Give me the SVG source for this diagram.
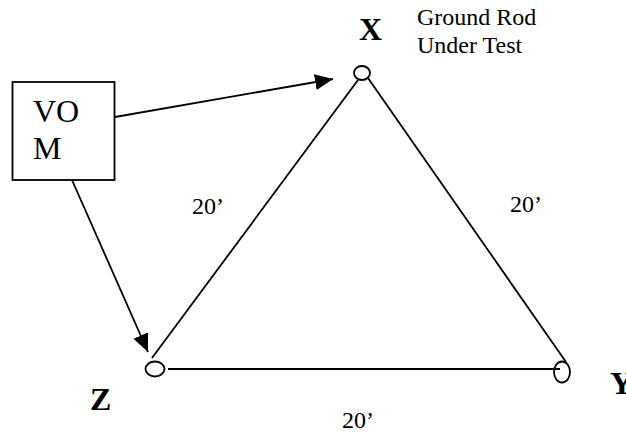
<svg xmlns="http://www.w3.org/2000/svg" width="626" height="432" viewBox="0 0 626 432">
<style>
text{font-family:"Liberation Serif","Times New Roman",serif;fill:#000}
.l{font-size:24px}.b{font-size:32px;font-weight:bold}.v{font-size:32px}
.s{fill:none;stroke:#000;stroke-width:1.8}
</style>
<defs><marker id="a" markerUnits="userSpaceOnUse" markerWidth="18" markerHeight="16" refX="18" refY="8" orient="auto"><path d="M0 0L18 8L0 16Z" fill="#000"/></marker></defs>
<rect width="626" height="432" fill="#fff"/>
<g id="connectors">
<path class="s" d="M358 80L152 358"/><path class="s" d="M368 78L566 362"/><path class="s" d="M168 369H560"/>
<path class="s" d="M115 117L333 79" marker-end="url(#a)"/><path class="s" d="M72 180L148 352" marker-end="url(#a)"/>
</g>
<g id="vom"><rect class="s" x="12.500" y="82" width="102" height="98"/><text class="v" x="33" y="122">VO</text><text class="v" x="33" y="159">M</text></g>
<g id="x"><ellipse class="s" cx="362" cy="73" rx="8" ry="7"/><text class="b" x="359" y="40">X</text></g>
<g id="y"><ellipse class="s" cx="562" cy="372" rx="8" ry="10.500"/><text class="b" x="610" y="394">Y</text></g>
<g id="z"><ellipse class="s" cx="155" cy="369" rx="9.500" ry="7.500"/><text class="b" x="90" y="410">Z</text></g>
<g id="labels">
<text class="l" x="417" y="25">Ground Rod</text><text class="l" x="417" y="53">Under Test</text>
<text class="l" x="192" y="214">20’</text><text class="l" x="510" y="212">20’</text><text class="l" x="342" y="428">20’</text>
</g>
</svg>
